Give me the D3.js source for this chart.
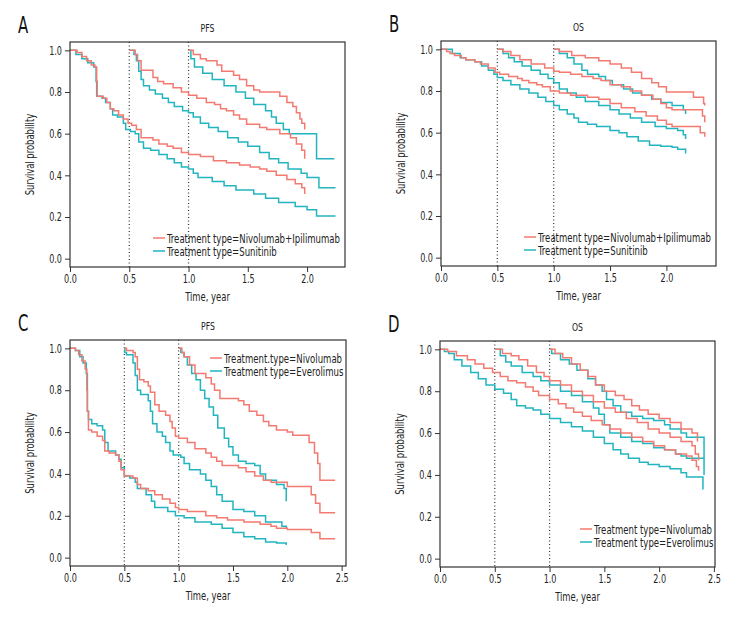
<!DOCTYPE html>
<html><head><meta charset="utf-8">
<script src="https://cdn.jsdelivr.net/npm/d3@7"></script>
<style>
body{margin:0;background:#fff;}
svg text{font-family:'Liberation Sans Narrow','DejaVu Sans Condensed','DejaVu Sans',sans-serif;fill:#222;}
</style></head>
<body><svg id="c" width="744" height="624"></svg>
<script>
// ---------- data (time in years, survival probability) ----------
const yTicks = [0, 0.2, 0.4, 0.6, 0.8, 1.0];
const xTicksAB = [0, 0.5, 1.0, 1.5, 2.0];
const xTicksCD = [0, 0.5, 1.0, 1.5, 2.0, 2.5];
const landmarks = [0.5, 1.0];
const panelLetters = ["A", "B", "C", "D"];
const panelTitles = ["PFS", "OS", "PFS", "OS"];
const legendAB = ["Treatment type=Nivolumab+Ipilimumab", "Treatment type=Sunitinib"];
const legendC = ["Treatment.type=Nivolumab", "Treatment type=Everolimus"];
const legendD = ["Treatment type=Nivolumab", "Treatment type=Everolimus"];

// Panel A – PFS, Nivolumab+Ipilimumab vs Sunitinib
const A_nivo_0 = [[0,1],[0.06,0.99],[0.1,0.97],[0.14,0.95],[0.18,0.93],[0.21,0.92],[0.225,0.85],[0.23,0.78],[0.28,0.77],[0.31,0.75],[0.34,0.72],[0.37,0.71],[0.41,0.69],[0.45,0.67],[0.49,0.65],[0.52,0.64],[0.56,0.62],[0.6,0.58],[0.7,0.57],[0.75,0.55],[0.82,0.54],[0.87,0.53],[0.94,0.51],[1.0,0.50],[1.1,0.49],[1.21,0.47],[1.32,0.46],[1.43,0.45],[1.52,0.44],[1.6,0.43],[1.66,0.42],[1.74,0.40],[1.83,0.38],[1.9,0.36],[1.955,0.34],[1.98,0.31]];
const A_suni_0 = [[0,1],[0.05,0.98],[0.1,0.96],[0.15,0.94],[0.2,0.92],[0.22,0.85],[0.225,0.78],[0.27,0.77],[0.3,0.75],[0.34,0.72],[0.36,0.69],[0.4,0.68],[0.45,0.65],[0.47,0.62],[0.51,0.61],[0.55,0.60],[0.58,0.56],[0.62,0.53],[0.68,0.52],[0.75,0.50],[0.82,0.48],[0.88,0.46],[0.94,0.44],[1.0,0.43],[1.04,0.41],[1.08,0.39],[1.2,0.37],[1.3,0.35],[1.4,0.33],[1.55,0.31],[1.65,0.29],[1.76,0.27],[1.9,0.25],[2.0,0.235],[2.08,0.205],[2.24,0.205]];
const A_nivo_05 = [[0.5,1],[0.55,0.98],[0.57,0.95],[0.6,0.905],[0.7,0.87],[0.74,0.85],[0.79,0.84],[0.87,0.82],[0.94,0.80],[1.0,0.785],[1.07,0.77],[1.15,0.75],[1.22,0.74],[1.27,0.72],[1.32,0.71],[1.38,0.69],[1.43,0.67],[1.49,0.645],[1.6,0.63],[1.66,0.62],[1.77,0.60],[1.86,0.58],[1.91,0.55],[1.955,0.52],[1.98,0.48]];
const A_suni_05 = [[0.5,1],[0.54,0.98],[0.56,0.95],[0.58,0.90],[0.6,0.86],[0.62,0.83],[0.67,0.81],[0.72,0.79],[0.78,0.77],[0.83,0.75],[0.88,0.73],[0.95,0.71],[1.0,0.70],[1.04,0.68],[1.1,0.65],[1.17,0.63],[1.25,0.61],[1.33,0.58],[1.42,0.56],[1.5,0.54],[1.6,0.51],[1.68,0.48],[1.76,0.46],[1.84,0.43],[1.95,0.41],[2.0,0.39],[2.1,0.34],[2.24,0.34]];
const A_nivo_1 = [[1,1],[1.04,0.98],[1.1,0.96],[1.15,0.95],[1.24,0.93],[1.28,0.90],[1.38,0.88],[1.43,0.86],[1.49,0.83],[1.55,0.81],[1.6,0.80],[1.77,0.78],[1.83,0.75],[1.88,0.73],[1.91,0.70],[1.94,0.67],[1.955,0.65],[1.98,0.62]];
const A_suni_1 = [[1,1],[1.02,0.96],[1.05,0.92],[1.12,0.89],[1.2,0.86],[1.3,0.83],[1.4,0.80],[1.48,0.77],[1.55,0.74],[1.65,0.71],[1.7,0.68],[1.74,0.65],[1.8,0.62],[1.85,0.60],[2.08,0.48],[2.23,0.48]];

// Panel B – OS, Nivolumab+Ipilimumab vs Sunitinib
const B_nivo_0 = [[0,1],[0.05,0.99],[0.08,0.98],[0.12,0.97],[0.18,0.96],[0.22,0.95],[0.3,0.94],[0.35,0.93],[0.42,0.91],[0.48,0.89],[0.52,0.88],[0.6,0.87],[0.68,0.86],[0.72,0.85],[0.78,0.84],[0.85,0.83],[0.9,0.82],[0.97,0.80],[1.05,0.79],[1.15,0.78],[1.3,0.77],[1.4,0.76],[1.5,0.74],[1.6,0.72],[1.72,0.70],[1.82,0.68],[1.92,0.66],[2.0,0.64],[2.05,0.63],[2.3,0.60],[2.34,0.58]];
const B_suni_0 = [[0,1],[0.1,0.98],[0.17,0.96],[0.22,0.95],[0.3,0.94],[0.36,0.92],[0.42,0.90],[0.47,0.88],[0.5,0.865],[0.55,0.85],[0.62,0.83],[0.7,0.81],[0.78,0.79],[0.86,0.77],[0.93,0.75],[1.0,0.73],[1.05,0.71],[1.12,0.69],[1.18,0.67],[1.22,0.65],[1.3,0.64],[1.38,0.63],[1.5,0.61],[1.58,0.60],[1.65,0.58],[1.75,0.56],[1.85,0.54],[1.95,0.535],[2.05,0.53],[2.1,0.52],[2.17,0.50]];
const B_nivo_05 = [[0.5,1],[0.55,0.99],[0.62,0.97],[0.7,0.95],[0.8,0.93],[0.92,0.91],[1.0,0.895],[1.05,0.89],[1.15,0.88],[1.25,0.87],[1.35,0.86],[1.42,0.85],[1.5,0.83],[1.6,0.82],[1.68,0.80],[1.78,0.78],[1.88,0.76],[1.95,0.74],[2.0,0.72],[2.05,0.71],[2.32,0.68],[2.34,0.65]];
const B_suni_05 = [[0.5,1],[0.55,0.98],[0.6,0.96],[0.65,0.94],[0.72,0.92],[0.8,0.90],[0.88,0.88],[0.95,0.86],[1.0,0.84],[1.05,0.81],[1.12,0.79],[1.2,0.77],[1.28,0.75],[1.4,0.73],[1.5,0.71],[1.58,0.69],[1.68,0.67],[1.78,0.65],[1.9,0.63],[2.0,0.62],[2.1,0.61],[2.15,0.59],[2.17,0.57]];
const B_nivo_1 = [[1,1],[1.05,0.99],[1.16,0.97],[1.28,0.96],[1.4,0.945],[1.5,0.93],[1.6,0.91],[1.69,0.89],[1.78,0.86],[1.87,0.84],[1.93,0.82],[2.0,0.795],[2.24,0.77],[2.33,0.74],[2.34,0.73]];
const B_suni_1 = [[1,1],[1.05,0.98],[1.12,0.96],[1.18,0.93],[1.25,0.90],[1.3,0.88],[1.4,0.87],[1.46,0.85],[1.52,0.83],[1.62,0.81],[1.7,0.79],[1.78,0.78],[1.87,0.76],[1.95,0.745],[2.05,0.73],[2.15,0.71],[2.17,0.69]];

// Panel C – PFS, Nivolumab vs Everolimus
const C_nivo_0 = [[0,1],[0.05,0.99],[0.08,0.97],[0.11,0.94],[0.14,0.90],[0.155,0.80],[0.16,0.70],[0.17,0.61],[0.2,0.60],[0.25,0.58],[0.3,0.56],[0.32,0.51],[0.36,0.50],[0.42,0.49],[0.45,0.46],[0.47,0.42],[0.5,0.39],[0.58,0.38],[0.62,0.35],[0.65,0.33],[0.72,0.32],[0.78,0.30],[0.85,0.28],[0.92,0.26],[0.97,0.24],[1.0,0.23],[1.08,0.22],[1.25,0.20],[1.35,0.19],[1.45,0.18],[1.6,0.17],[1.75,0.16],[1.85,0.15],[1.9,0.14],[2.0,0.135],[2.22,0.12],[2.3,0.09],[2.44,0.09]];
const C_eve_0 = [[0,1],[0.05,0.99],[0.09,0.96],[0.12,0.93],[0.15,0.88],[0.16,0.70],[0.17,0.66],[0.2,0.64],[0.25,0.63],[0.3,0.61],[0.32,0.55],[0.35,0.51],[0.42,0.49],[0.45,0.47],[0.47,0.43],[0.5,0.39],[0.55,0.38],[0.6,0.36],[0.62,0.33],[0.7,0.30],[0.75,0.27],[0.78,0.24],[0.9,0.22],[0.97,0.20],[1.05,0.19],[1.15,0.17],[1.3,0.16],[1.4,0.14],[1.5,0.12],[1.6,0.10],[1.7,0.09],[1.8,0.075],[1.9,0.07],[1.99,0.06]];
const C_nivo_05 = [[0.5,1],[0.52,0.99],[0.58,0.98],[0.6,0.96],[0.62,0.90],[0.64,0.85],[0.68,0.84],[0.72,0.82],[0.74,0.79],[0.78,0.73],[0.82,0.70],[0.88,0.68],[0.92,0.65],[0.94,0.62],[0.97,0.58],[1.0,0.57],[1.08,0.55],[1.15,0.52],[1.25,0.50],[1.3,0.48],[1.35,0.46],[1.4,0.44],[1.55,0.43],[1.62,0.41],[1.7,0.39],[1.78,0.37],[1.85,0.36],[2.0,0.34],[2.22,0.30],[2.26,0.26],[2.3,0.215],[2.44,0.215]];
const C_eve_05 = [[0.5,1],[0.505,0.98],[0.52,0.97],[0.58,0.93],[0.6,0.87],[0.62,0.80],[0.65,0.78],[0.72,0.75],[0.74,0.70],[0.76,0.64],[0.8,0.60],[0.85,0.58],[0.88,0.55],[0.92,0.51],[0.95,0.49],[1.02,0.48],[1.05,0.45],[1.1,0.42],[1.2,0.40],[1.25,0.37],[1.3,0.34],[1.35,0.30],[1.4,0.27],[1.5,0.23],[1.6,0.22],[1.7,0.20],[1.8,0.17],[1.95,0.15],[1.99,0.14]];
const C_nivo_1 = [[1,1],[1.03,0.98],[1.05,0.96],[1.1,0.92],[1.15,0.88],[1.25,0.86],[1.3,0.83],[1.33,0.80],[1.38,0.76],[1.55,0.75],[1.6,0.73],[1.65,0.70],[1.72,0.68],[1.78,0.65],[1.83,0.63],[1.9,0.61],[2.0,0.60],[2.05,0.585],[2.2,0.55],[2.25,0.50],[2.28,0.45],[2.3,0.37],[2.44,0.37]];
const C_eve_1 = [[1,1],[1.02,0.98],[1.05,0.96],[1.08,0.92],[1.12,0.88],[1.16,0.85],[1.2,0.80],[1.24,0.76],[1.28,0.72],[1.32,0.68],[1.36,0.62],[1.42,0.57],[1.46,0.53],[1.5,0.49],[1.55,0.46],[1.62,0.45],[1.7,0.44],[1.75,0.40],[1.8,0.37],[1.9,0.35],[1.97,0.33],[1.99,0.27]];

// Panel D – OS, Nivolumab vs Everolimus
const D_nivo_0 = [[0,1],[0.07,0.99],[0.15,0.97],[0.25,0.95],[0.32,0.93],[0.4,0.91],[0.48,0.89],[0.55,0.87],[0.62,0.85],[0.7,0.84],[0.78,0.82],[0.85,0.80],[0.9,0.78],[1.0,0.76],[1.08,0.74],[1.15,0.72],[1.22,0.70],[1.3,0.68],[1.38,0.66],[1.48,0.64],[1.55,0.62],[1.65,0.60],[1.75,0.58],[1.85,0.56],[1.95,0.54],[2.05,0.52],[2.15,0.50],[2.25,0.49],[2.3,0.47],[2.34,0.44],[2.36,0.42]];
const D_eve_0 = [[0,1],[0.04,0.99],[0.08,0.98],[0.13,0.95],[0.2,0.92],[0.28,0.89],[0.35,0.86],[0.42,0.83],[0.5,0.81],[0.58,0.79],[0.65,0.76],[0.7,0.73],[0.78,0.72],[0.85,0.71],[0.92,0.69],[1.0,0.67],[1.1,0.65],[1.2,0.63],[1.3,0.61],[1.4,0.58],[1.5,0.55],[1.58,0.52],[1.65,0.50],[1.72,0.48],[1.82,0.46],[1.9,0.45],[2.0,0.44],[2.1,0.43],[2.2,0.41],[2.25,0.39],[2.4,0.33]];
const D_nivo_05 = [[0.5,1],[0.57,0.98],[0.65,0.97],[0.72,0.95],[0.8,0.92],[0.88,0.89],[0.95,0.87],[1.0,0.85],[1.1,0.83],[1.2,0.80],[1.3,0.78],[1.4,0.75],[1.5,0.72],[1.6,0.70],[1.7,0.67],[1.8,0.65],[1.9,0.62],[2.0,0.60],[2.1,0.58],[2.2,0.56],[2.3,0.54],[2.33,0.50],[2.36,0.47]];
const D_eve_05 = [[0.5,1],[0.55,0.97],[0.6,0.94],[0.65,0.92],[0.75,0.89],[0.85,0.87],[0.92,0.85],[1.0,0.83],[1.1,0.80],[1.2,0.78],[1.3,0.75],[1.4,0.72],[1.45,0.69],[1.5,0.64],[1.55,0.60],[1.65,0.58],[1.75,0.56],[1.85,0.55],[1.95,0.53],[2.05,0.52],[2.15,0.50],[2.2,0.49],[2.25,0.48],[2.41,0.40]];
const D_nivo_1 = [[1,1],[1.05,0.98],[1.12,0.96],[1.2,0.93],[1.28,0.90],[1.35,0.87],[1.42,0.83],[1.5,0.80],[1.6,0.78],[1.68,0.76],[1.75,0.73],[1.82,0.71],[1.9,0.69],[2.0,0.67],[2.1,0.65],[2.2,0.62],[2.3,0.60],[2.35,0.56]];
const D_eve_1 = [[1,1],[1.02,0.98],[1.1,0.95],[1.18,0.93],[1.25,0.90],[1.35,0.86],[1.42,0.83],[1.48,0.80],[1.52,0.76],[1.58,0.73],[1.65,0.70],[1.75,0.68],[1.85,0.67],[1.95,0.66],[2.05,0.64],[2.1,0.62],[2.2,0.60],[2.25,0.58],[2.41,0.48]];

// ---------- layout ----------
const RED = "#f37a70", TEAL = "#22b5c0";
const K = 0.78; // horizontal text compression to mimic the condensed typeface
const panels = [
  {letter:0, box:[70,42,345,267], xmax:2.32, xt:xTicksAB, legend:legendAB, leg:[153,238],
   red:[A_nivo_0,A_nivo_05,A_nivo_1], teal:[A_suni_0,A_suni_05,A_suni_1]},
  {letter:1, box:[441,41,716,266], xmax:2.44, xt:xTicksAB, legend:legendAB, leg:[524,237],
   red:[B_nivo_0,B_nivo_05,B_nivo_1], teal:[B_suni_0,B_suni_05,B_suni_1]},
  {letter:2, box:[70,340,346,566], xmax:2.54, xt:xTicksCD, legend:legendC, leg:[210,358],
   red:[C_nivo_0,C_nivo_05,C_nivo_1], teal:[C_eve_0,C_eve_05,C_eve_1]},
  {letter:3, box:[440,341,715,567], xmax:2.51, xt:xTicksCD, legend:legendD, leg:[580,529],
   red:[D_nivo_0,D_nivo_05,D_nivo_1], teal:[D_eve_0,D_eve_05,D_eve_1]}
];

const svg = d3.select("#c");
svg.append("rect").attr("width",744).attr("height",624).attr("fill","#fff");

// compress a text horizontally around its anchor using a transform
function condense(sel, k, extra) {
  sel.each(function(){
    const t = d3.select(this);
    const tx = +(t.attr("x") || 0), ty = +(t.attr("y") || 0);
    const pre = t.attr("transform") || "";
    t.attr("x", null).attr("y", null)
     .attr("transform", `${pre} translate(${tx},${ty}) scale(${k},1)`);
  });
}

panels.forEach(p => {
  const [x0,y0,x1,y1] = p.box;
  const x = d3.scaleLinear().domain([0,p.xmax]).range([x0,x1]);
  const y = d3.scaleLinear().domain([-0.04,1.04]).range([y1,y0]);
  const g = svg.append("g");

  // panel letter & title
  g.append("text").attr("x", x0-52).attr("y", y0-9).attr("font-size",23).style("fill","#111")
    .text(panelLetters[p.letter]).call(condense, 0.72);
  g.append("text").attr("x",(x0+x1)/2).attr("y",y0-10).attr("text-anchor","middle")
    .attr("font-size",11).text(panelTitles[p.letter]).call(condense, K);

  // axes
  const ya = g.append("g").attr("transform",`translate(${x0},0)`)
    .call(d3.axisLeft(y).tickValues(yTicks).tickFormat(d3.format(".1f")).tickSize(5).tickPadding(3));
  const xa = g.append("g").attr("transform",`translate(0,${y1})`)
    .call(d3.axisBottom(x).tickValues(p.xt).tickFormat(d3.format(".1f")).tickSize(5).tickPadding(3));
  [ya,xa].forEach(a => {
    a.select(".domain").remove();
    a.selectAll("line").attr("stroke","#333");
    a.selectAll("text").attr("font-size",11.5)
      .style("font-family","'Liberation Sans Narrow','DejaVu Sans Condensed',sans-serif").style("fill","#222")
      .call(condense, K);
  });

  g.append("text").attr("x",(x0+x1)/2).attr("y",y1+34).attr("text-anchor","middle")
    .attr("font-size",12).text("Time, year").call(condense, K);
  g.append("text").attr("transform",`translate(${x0-36},${(y0+y1)/2}) rotate(-90)`)
    .attr("text-anchor","middle").attr("font-size",12).text("Survival probability").call(condense, K);

  // landmark lines
  landmarks.forEach(t => {
    g.append("line").attr("x1",x(t)).attr("x2",x(t)).attr("y1",y0).attr("y2",y1)
      .attr("stroke","#333").attr("stroke-width",1.2).attr("stroke-dasharray","1,2.5");
  });

  // curves
  const line = d3.line().x(d=>x(d[0])).y(d=>y(d[1])).curve(d3.curveStepAfter);
  const draw = (arr,col) => arr.forEach(d => g.append("path").attr("d",line(d))
      .attr("fill","none").attr("stroke",col).attr("stroke-width",1.5));
  draw(p.teal, TEAL);
  draw(p.red, RED);

  // box
  g.append("rect").attr("x",x0).attr("y",y0).attr("width",x1-x0).attr("height",y1-y0)
    .attr("fill","none").attr("stroke","#333").attr("stroke-width",1.2);

  // legend
  const [lx,ly] = p.leg;
  [RED,TEAL].forEach((c,i) => {
    g.append("line").attr("x1",lx).attr("x2",lx+12).attr("y1",ly+i*13).attr("y2",ly+i*13)
      .attr("stroke",c).attr("stroke-width",1.5);
    g.append("text").attr("x",lx+14).attr("y",ly+i*13+4.5).attr("font-size",12.5)
      .text(p.legend[i]).call(condense, 0.76);
  });
});
</script></body></html>
